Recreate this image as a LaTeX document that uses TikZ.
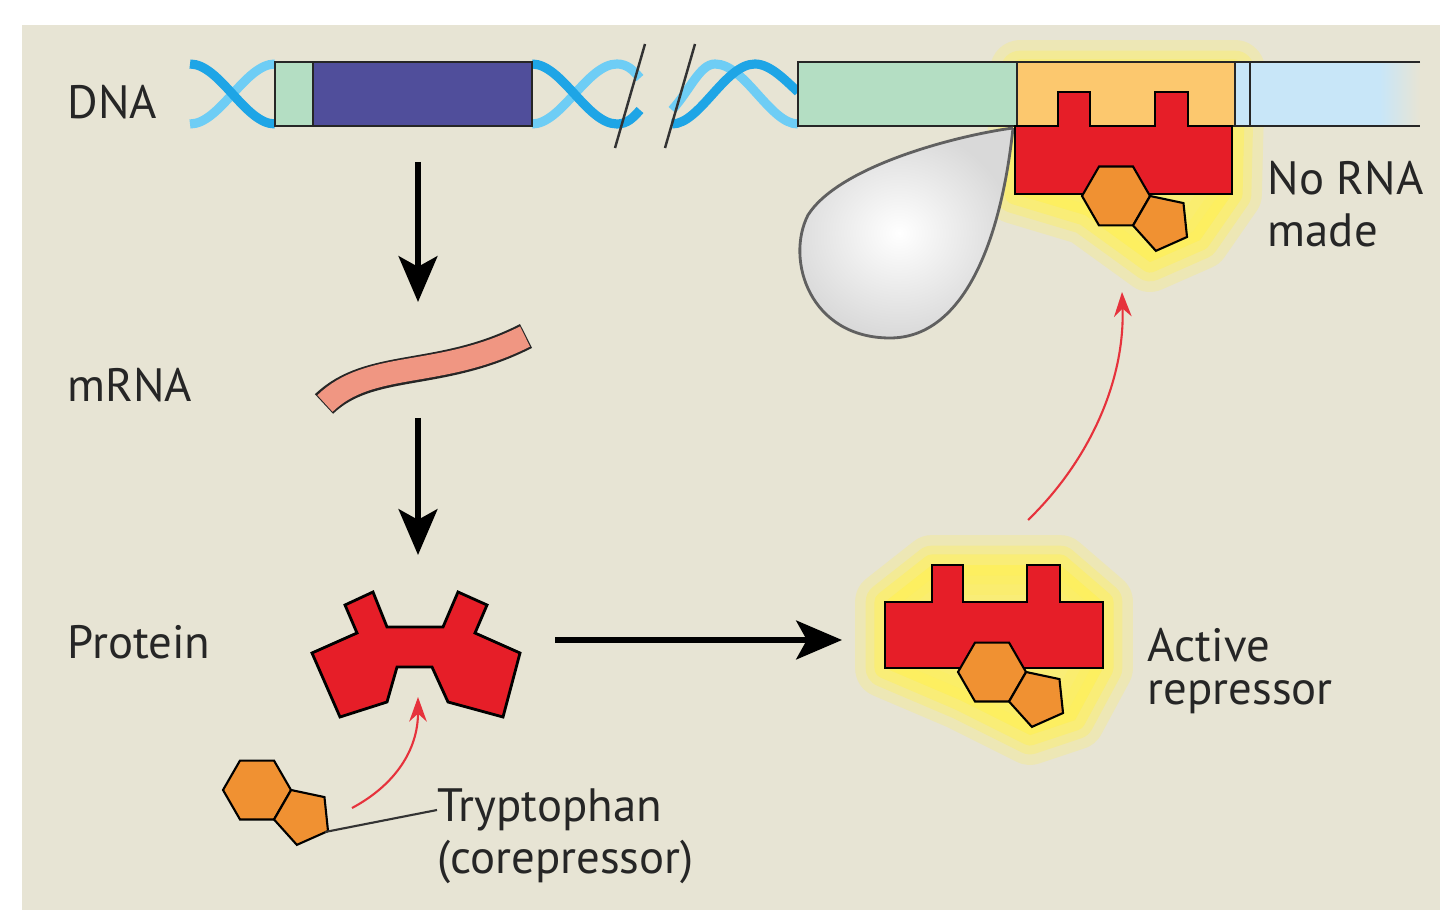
\documentclass[tikz,border=0pt]{standalone}
\usepackage{fontspec}
\setmainfont{PT Sans}
\usetikzlibrary{arrows.meta}
\definecolor{bg}{RGB}{231,228,212}
\definecolor{dblue}{RGB}{80,78,155}
\definecolor{lgreen}{RGB}{180,222,195}
\definecolor{lorange}{RGB}{252,200,110}
\definecolor{lblue}{RGB}{200,230,248}
\definecolor{rred}{RGB}{230,30,40}
\definecolor{trp}{RGB}{240,145,50}
\definecolor{helixA}{RGB}{30,165,230}
\definecolor{helixB}{RGB}{110,205,245}
\definecolor{salmon}{RGB}{240,150,130}
\definecolor{glow}{RGB}{255,240,90}
\definecolor{arred}{RGB}{230,50,60}
\begin{document}
\begin{tikzpicture}[x=0.01cm,y=-0.01cm,
  lbl/.style={anchor=west,font=\fontsize{13.3}{15}\selectfont,text=black!85,inner sep=0pt},
  blk/.style={line width=1.7pt,-{Stealth[length=13pt,width=11pt,inset=3pt]}},
  redarr/.style={arred,line width=0.6pt,-{Stealth[length=7pt,width=5pt]}},
  helix/.style={line width=2.6pt},
  trp/.pic={
    \fill[trp,draw=black,line width=0.6pt] (0:34)--(60:34)--(120:34)--(180:34)--(240:34)--(300:34)--cycle;
    \begin{scope}[shift={(30:53)}]
    \fill[trp,draw=black,line width=0.6pt] (30:29)--(102:29)--(174:29)--(246:29)--(318:29)--cycle;
    \end{scope}
  }]
\useasboundingbox (0,0) rectangle (1440,910);
\fill[white] (0,0) rectangle (1440,910);
\fill[bg] (22,25) rectangle (1440,910);

% helices
\draw[helix,helixB] (190,124) .. controls (220,124) and (245,64) .. (275,64);
\draw[helix,helixA] (190,64) .. controls (220,64) and (245,124) .. (275,124);
\draw[helix,helixB] (532,124) .. controls (562,124) and (587,64) .. (617,64) .. controls (627,64) and (633,70) .. (640,78);
\draw[helix,helixA] (532,64) .. controls (562,64) and (587,124) .. (617,124) .. controls (627,124) and (633,118) .. (640,110);
\draw[helix,helixB] (672,110) .. controls (690,90) and (700,64) .. (715,64) .. controls (745,64) and (770,124) .. (798,124);
\draw[helix,helixA] (672,124) .. controls (700,124) and (725,64) .. (755,64) .. controls (770,64) and (785,80) .. (798,92);
\draw[black!80,line width=0.7pt] (615,148)--(645,44) (665,148)--(695,44);

% gene left
\fill[lgreen] (275,62) rectangle (313,126);
\fill[dblue] (313,62) rectangle (532,126);
\draw[black!85,line width=0.8pt] (275,62) rectangle (532,126) (313,62)--(313,126);

% glow on DNA repressor
\foreach \w/\o in {17/0.25,11/0.35,6/0.5}{
  \draw[glow,opacity=\o,line width=\w pt,line join=round,fill=glow]
   (1020,70)--(1235,70)--(1232,194)--(1200,240)--(1150,262)--(1085,215)--(1015,194)--cycle;
}
% right DNA
\fill[lgreen] (798,62) rectangle (1017,126);
\fill[lorange] (1017,62) rectangle (1235,126);
\fill[lblue] (1235,62) rectangle (1380,126);
\shade[left color=lblue,right color=bg] (1380,62) rectangle (1420,126);
\draw[black!85,line width=0.8pt] (1420,62)--(798,62)--(798,126)--(1420,126) (1017,62)--(1017,126) (1235,62)--(1235,126) (1250,62)--(1250,126);

% RNA polymerase
\shade[inner color=white,outer color=gray!30,draw=gray!75!black,line width=0.8pt]
  (1013,128) .. controls (960,135) and (840,165) .. (808,215) .. controls (785,260) and (810,338) .. (890,338) .. controls (960,338) and (1000,250) .. (1013,128);
% repressor on DNA
\fill[rred,draw=black,line width=0.8pt] (1015,126)--(1058,126)--(1058,92)--(1090,92)--(1090,126)--(1155,126)--(1155,92)--(1188,92)--(1188,126)--(1232,126)--(1232,194)--(1015,194)--cycle;
\pic at (1116,196) {trp};
\node[lbl] (norna) at (1267,178) {No RNA};
\node[lbl] (made) at (1267,230) {made};

% labels
\node[lbl] (dna) at (67,102) {DNA};
\node[lbl] (mrnal) at (67,385) {mRNA};
\node[lbl] (protl) at (67,642) {Protein};

% mRNA
\draw[black!85,line width=7.6pt] (324,404) .. controls (370,360) and (440,380) .. (526,336);
\draw[salmon,line width=6.4pt] (325,403.5) .. controls (370,359.5) and (440,379.5) .. (525,336.5);
\coordinate (g1) at (418,162);
\coordinate (m1) at (418,302);
\coordinate (m2) at (418,418);
\coordinate (p1) at (418,555);
\draw[blk] (g1)--(m1);
\draw[blk] (m2)--(p1);

% protein
\fill[rred,draw=black,line width=0.8pt] (312,653)--(357,633)--(345,605)--(373,592)--(387,627)--(443,627)--(458,592)--(487,605)--(475,633)--(520,653)--(503,717)--(448,702)--(432,667)--(397,667)--(387,702)--(340,717)--cycle;
\coordinate (prot) at (418,697);

% free tryptophan
\pic at (257,790) {trp};
\coordinate (trpfree) at (352,808);
\coordinate (trpdot) at (325,832);
\node[lbl] (trpl) at (437,810) {Tryptophan};
\node[lbl] (corep) at (437,862) {(corepressor)};
\draw[black!80,line width=0.6pt] (trpdot)--(trpl.west);
\draw[redarr] (trpfree) .. controls (395,785) and (418,750) .. (prot);

% horizontal arrow
\coordinate (h1) at (555,640);
\coordinate (h2) at (842,640);
\draw[blk] (h1)--(h2);

% active repressor
\foreach \w/\o in {17/0.25,11/0.35,6/0.5}{
  \draw[glow,opacity=\o,line width=\w pt,line join=round,fill=glow]
   (885,602)--(932,565)--(1060,565)--(1103,602)--(1103,668)--(1075,720)--(1030,735)--(960,700)--(885,668)--cycle;
}
\fill[rred,draw=black,line width=0.8pt] (885,602)--(932,602)--(932,565)--(963,565)--(963,602)--(1027,602)--(1027,565)--(1060,565)--(1060,602)--(1103,602)--(1103,668)--(885,668)--cycle;
\pic at (992,672) {trp};
\node[lbl] (act) at (1147,645) {Active};
\node[lbl] (rep) at (1147,697) {repressor};
\coordinate (ar1) at (1028,520);
\coordinate (ar2) at (1122,292);
\draw[redarr] (ar1) .. controls (1090,460) and (1125,380) .. (ar2);
\end{tikzpicture}
\end{document}
